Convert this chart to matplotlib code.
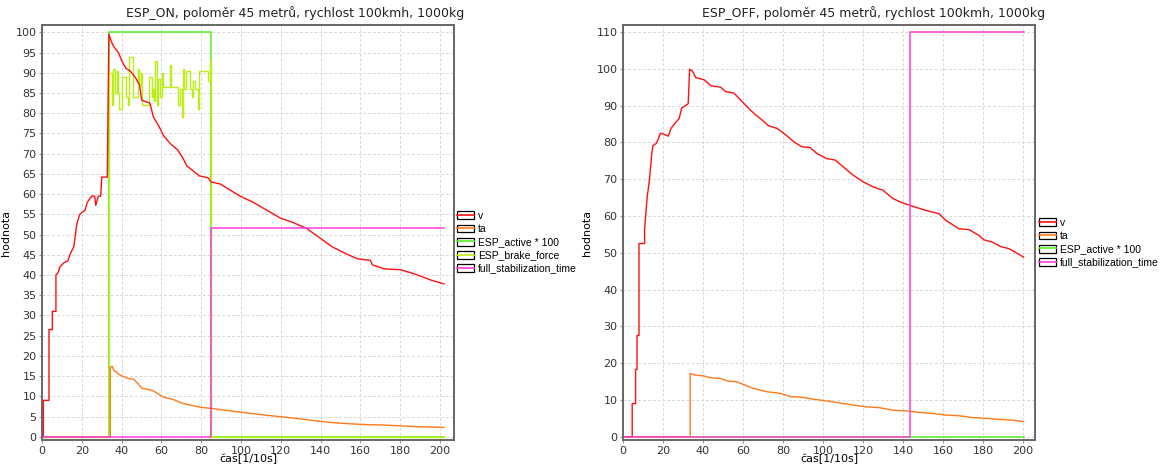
import matplotlib
matplotlib.use("Agg")
import matplotlib.pyplot as plt
from matplotlib.lines import Line2D
from matplotlib.patches import Rectangle

# ---- ESP_ON data (time in 1/10 s), repeated t = vertical jump ----
on_v_t = [0, 0.7, 0.7, 3.5, 3.5, 5.2, 5.2, 7, 7, 8, 9, 11, 13, 14, 16, 17.3, 18, 19, 21.6, 22.8,
          25, 26.5, 27, 28.3, 29.5, 30, 32.8, 33.6, 35, 36, 38.4, 40, 42.3, 44.2, 46.7, 49,
          50.1, 54.2, 56, 58.5, 61, 64.4, 68, 70.7, 72.7, 75.3, 79, 83.6, 84.8, 89.5, 94.5,
          99.5, 106, 113, 120, 126, 133, 140, 146, 153, 158.5, 165, 166, 172, 180, 187, 195, 202]
on_v = [0, 0, 9, 9, 26.5, 26.5, 31, 31, 40, 40.5, 42, 43, 43.5, 45, 47, 52, 53.5, 55, 56, 58,
        59.5, 59.5, 57.2, 59.5, 59.5, 64.2, 64.2, 99.5, 97.5, 96.5, 95, 93, 91, 90.5, 89, 87,
        83.2, 82.5, 79, 77, 74.5, 72.5, 71, 69, 67, 66, 64.5, 64, 63, 62.5, 61,
        59.5, 58, 56, 54, 53, 51.5, 49, 46.9, 45.2, 44, 43.6, 42.5, 41.5, 41.3, 40.3, 38.8, 37.8]
on_ta_t = [0, 34.3, 34.3, 35.5, 36, 39.3, 42.7, 46, 48.5, 50.2, 55.2, 57.7, 61, 66, 71, 79.5,
           85.4, 96, 104.6, 113, 121, 130, 138, 146, 155, 163, 171.5, 188, 202]
on_ta = [0, 0, 17.3, 17.3, 16.5, 15.2, 14.5, 14.2, 13, 12, 11.5, 10.8, 9.8, 9.2, 8.2, 7.3,
         7.0, 6.3, 5.8, 5.3, 4.9, 4.4, 3.9, 3.5, 3.2, 3.0, 2.9, 2.5, 2.3]
on_active_t = [0, 33.6, 33.6, 85, 85, 202]
on_active = [0, 0, 100, 100, 0, 0]
on_brake_t = [0, 33.7, 35.0, 35.9, 36.7, 37.5, 38.4, 38.9, 40.0, 41.7, 42.2, 43.4, 43.9, 45.9,
              47.6, 48.1, 48.9, 49.6, 50.1, 53.9, 55.1, 55.6, 56.3, 56.9, 57.6, 58.4, 59.3,
              60.1, 60.6, 64.3, 64.6, 68.5, 69.3, 70.2, 70.7, 71.4, 72.4, 74.4, 75.2, 76.1,
              76.9, 78.6, 79.1, 83.6, 84.4, 85, 202]
on_brake = [0, 90, 82, 91, 85, 90.5, 85, 81, 89, 89, 84, 82, 94, 84,
            84, 91, 87, 90, 82, 89, 84, 86, 83, 93, 82, 88.5, 84,
            90, 86.5, 92, 86.5, 82, 86, 79, 91, 86, 90.5, 86, 84, 88,
            86, 81, 90.5, 88, 93, 0, 0]
on_stab_t = [0, 85, 85, 202]
on_stab = [0, 0, 51.5, 51.5]

# ---- ESP_OFF data ----
off_v_t = [0, 4.6, 4.6, 6.3, 6.3, 7, 7, 8, 8, 10.8, 10.8, 12.1, 13.2, 14.4, 15, 16.6, 17.7, 18.7,
           21.5, 22.7, 24, 26, 28.1, 29.3, 32.6, 33.3, 34.8, 36.4, 40.6, 43.9, 48.8, 51.3, 55.5,
           58.8, 62, 65.4, 69.5, 72.8, 77, 80.3, 85.3, 89.4, 93.5, 96.9, 101.8, 106, 110, 115,
           120, 125, 130, 135, 140, 145, 151.5, 158, 161.4, 168, 173, 178, 180.5, 184.6, 188.7,
           193, 196, 200.3]
off_v = [0, 0, 9, 9, 18.3, 18.3, 27.5, 27.5, 52.5, 52.5, 56.5, 65.2, 69.7, 77, 79.1, 79.7, 81,
         82.5, 82, 81.7, 83.8, 85.2, 86.5, 89.3, 90.5, 99.9, 99.3, 97.6, 97, 95.4, 95, 93.8, 93.4,
         91.5, 89.7, 87.9, 86.1, 84.5, 83.8, 82.5, 80.2, 78.8, 78.6, 77, 75.6, 75.2, 73.4, 71.1,
         69.3, 67.9, 67, 64.7, 63.5, 62.6, 61.5, 60.6, 58.8, 56.5, 56.3, 54.7, 53.5, 52.9, 51.7,
         51.1, 50.2, 48.8]
off_ta_t = [0, 33.6, 33.6, 35.6, 40.6, 43.9, 48.8, 52, 57, 62, 65.4, 72, 78.6, 83.6, 90, 95, 102,
            108, 115, 121.7, 128, 135, 141.6, 148, 155, 161, 168, 174.7, 181, 188, 194.5, 200.3]
off_ta = [0, 0, 17.2, 16.8, 16.5, 16, 15.8, 15.2, 14.9, 13.8, 13.1, 12.2, 11.8, 10.9, 10.7, 10.2,
          9.7, 9.2, 8.6, 8.1, 7.9, 7.2, 7, 6.6, 6.3, 5.9, 5.7, 5.2, 5.0, 4.7, 4.5, 4.1]
off_active_t = [0, 200.3]
off_active = [0, 0]
off_stab_t = [0, 143.6, 143.6, 200.3]
off_stab = [0, 0, 110, 110]

c_v = "#ff1010"
c_ta = "#ff7a1a"
c_active = "#55ee22"
c_brake = "#bbee11"
c_stab = "#ff3ddd"

W, H = 1170, 466
fig = plt.figure(figsize=(W / 100, H / 100), dpi=100)
plt.rcParams["font.family"] = "DejaVu Sans"


def px_box(x0, x1, y0, y1):
    return [x0 / W, 1 - y1 / H, (x1 - x0) / W, (y1 - y0) / H]


def setup_axes(ax, xmax, ymin, ymax, ystep):
    ax.set_xlim(0, xmax)
    ax.set_ylim(ymin, ymax)
    ax.set_xticks(range(0, 201, 20))
    ax.set_yticks(range(0, int(ymax) + 1, ystep))
    ax.grid(True, color="#d8d8d8", linestyle=(0, (3, 2)), linewidth=0.7)
    ax.set_axisbelow(True)
    for s in ax.spines.values():
        s.set_color("#666666")
        s.set_linewidth(1.4)
    ax.tick_params(labelsize=8, length=2, color="#999999", labelcolor="#333333", pad=2)
    ax.set_xlabel("čas[1/10s]", fontsize=8, labelpad=-1)
    ax.set_ylabel("hodnota", fontsize=8, labelpad=3)


def legend_handles(colors):
    hs = []
    for c in colors:
        box = Rectangle((0, 0), 1, 1, facecolor="white", edgecolor="black", linewidth=0.9)
        ln = Line2D([], [], color=c, linewidth=1.2)
        hs.append((box, ln))
    return hs


leg_kw = dict(loc="upper left", frameon=False, prop={"family": "Liberation Sans", "size": 7.5},
              handlelength=1.6, handleheight=0.8, handletextpad=0.4,
              labelspacing=0.3, borderaxespad=0, borderpad=0)

# ---- left panel ----
ax1 = fig.add_axes(px_box(42, 454, 25, 440))
setup_axes(ax1, 207, -0.8, 101.8, 5)
ax1.plot(on_active_t, on_active, color=c_active, lw=1.1)
ax1.plot(on_brake_t, on_brake, color=c_brake, lw=1.0, drawstyle="steps-post")
ax1.plot(on_ta_t, on_ta, color=c_ta, lw=1.0)
ax1.plot(on_v_t, on_v, color=c_v, lw=1.0)
ax1.plot(on_stab_t, on_stab, color=c_stab, lw=1.1)
fig.text(295 / W, 1 - 13 / H, "ESP_ON, poloměr 45 metrů, rychlost 100kmh, 1000kg",
         ha="center", va="center", fontsize=9, color="#222222")
fig.legend(legend_handles([c_v, c_ta, c_active, c_brake, c_stab]),
           ["v", "ta", "ESP_active * 100", "ESP_brake_force", "full_stabilization_time"],
           bbox_to_anchor=(457 / W, 1 - 211 / H), **leg_kw)

# ---- right panel ----
ax2 = fig.add_axes(px_box(623, 1035, 25, 440))
setup_axes(ax2, 206, -0.9, 111.9, 10)
ax2.plot(off_active_t, off_active, color=c_active, lw=1.1)
ax2.plot(off_ta_t, off_ta, color=c_ta, lw=1.0)
ax2.plot(off_v_t, off_v, color=c_v, lw=1.0)
ax2.plot(off_stab_t, off_stab, color=c_stab, lw=1.1)
fig.text(874 / W, 1 - 13 / H, "ESP_OFF, poloměr 45 metrů, rychlost 100kmh, 1000kg",
         ha="center", va="center", fontsize=9, color="#222222")
fig.legend(legend_handles([c_v, c_ta, c_active, c_stab]),
           ["v", "ta", "ESP_active * 100", "full_stabilization_time"],
           bbox_to_anchor=(1039 / W, 1 - 218 / H), **leg_kw)

fig.savefig("out.png", dpi=100)
